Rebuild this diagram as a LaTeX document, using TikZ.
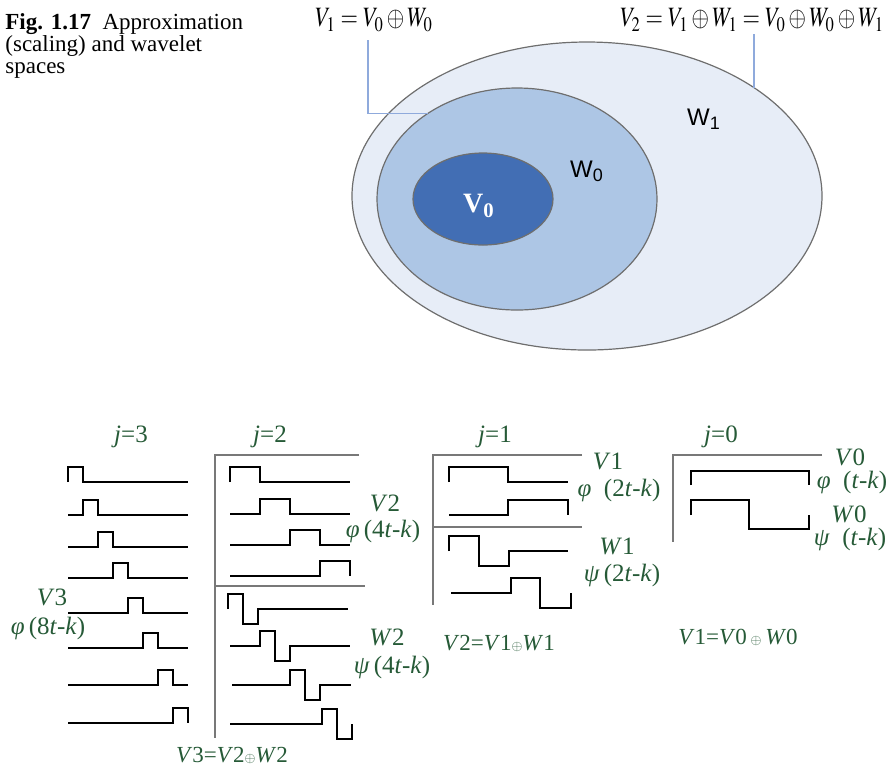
\documentclass[tikz,border=0pt]{standalone}
\usepackage{mathptmx}
\usepackage{fontspec}
\setmainfont{Liberation Serif}
\newfontfamily\arialfont{Liberation Sans}
\usepackage{xcolor}
\usepackage{graphicx}
\usetikzlibrary{shapes.geometric}

\definecolor{outfill}{RGB}{231,237,247}
\definecolor{midfill}{RGB}{173,198,229}
\definecolor{infill}{RGB}{66,110,180}
\definecolor{edgegray}{RGB}{110,110,110}
\definecolor{framegray}{RGB}{120,120,120}
\definecolor{leadblue}{RGB}{143,170,220}
\definecolor{wgreen}{RGB}{38,90,55}

\begin{document}
\begin{tikzpicture}[x=0.5pt, y=-0.5pt,
    subsp/.style={ellipse, draw=edgegray, line width=0.6pt,
                  inner sep=0pt, outer sep=0pt},
    wave/.style={line width=1pt, line join=miter},
    frame/.style={draw=framegray, line width=0.6pt},
    leader/.style={draw=leadblue, line width=0.6pt},
    lab/.style={text=wgreen, font=\fontsize{12.5}{14}\selectfont, inner sep=0pt},
    sumlab/.style={text=wgreen, font=\fontsize{11.5}{13}\selectfont, inner sep=0pt},
    eq/.style={font=\fontsize{14}{16}\selectfont, inner sep=0pt},
    spname/.style={font=\arialfont\fontsize{12}{14}\selectfont, inner sep=0pt},
]
\useasboundingbox (0,0) rectangle (894,768);

% Caption
\node[anchor=north west, align=left, inner sep=0pt,
      font=\fontsize{11.5}{11}\selectfont] (cap) at (5,13)
    {\textbf{Fig. 1.17}\enspace Approximation\\(scaling) and wavelet\\spaces};

% Nested spaces
\node[subsp, fill=outfill, minimum width=235pt, minimum height=154pt] (outell) at (587,196) {};
\node[subsp, fill=midfill, minimum width=140pt, minimum height=111pt] (midell) at (517,199) {};
\node[subsp, fill=infill, minimum width=70pt, minimum height=46pt] (inell) at (483,199) {};

\node[text=white, font=\fontsize{14}{16}\selectfont\bfseries, inner sep=0pt] (v0name) at (479,206) {V\textsubscript{0}};
\node[spname] (w0name) at (587,171) {W\textsubscript{0}};
\node[spname] (w1name) at (704,119) {W\textsubscript{1}};

\node[eq] (v1eq) at (374,20) {\scalebox{0.8}[1]{$V_1 = V_0 \oplus W_0$}};
\node[eq] (v2eq) at (752,20) {\scalebox{0.8}[1]{$V_2 = V_1 \oplus W_1 = V_0 \oplus W_0 \oplus W_1$}};
\coordinate (v1lead) at (368,40);
\coordinate (v2lead) at (754,34);
\draw[leader] (v1lead) |- (midell.136);
\draw[leader] (v2lead) -- (v2lead |- outell.33);

% Column frames
\draw[frame] (359,455) -- (215,455) -- (215,738);
\draw[frame] (215,586) -- (365,586);
\draw[frame] (582,455) -- (433,455) -- (433,605);
\draw[frame] (433,527) -- (582,527);
\draw[frame] (822,455) -- (673,455) -- (673,542);

% j=3 scaling functions
\draw[wave] (68,482) -- (68,467) -- (83,467) -- (83,482) -- (188,482);
\draw[wave] (68,515) -- (83,515) -- (83,500) -- (98,500) -- (98,515) -- (188,515);
\draw[wave] (68,547) -- (98,547) -- (98,532) -- (113,532) -- (113,547) -- (188,547);
\draw[wave] (68,578) -- (113,578) -- (113,563) -- (128,563) -- (128,578) -- (188,578);
\draw[wave] (68,613) -- (128,613) -- (128,598) -- (143,598) -- (143,613) -- (188,613);
\draw[wave] (68,648) -- (143,648) -- (143,633) -- (158,633) -- (158,648) -- (188,648);
\draw[wave] (68,685) -- (158,685) -- (158,670) -- (173,670) -- (173,685) -- (188,685);
\draw[wave] (68,723) -- (173,723) -- (173,708) -- (188,708) -- (188,723);

% j=2 scaling functions
\draw[wave] (230,482) -- (230,467) -- (260,467) -- (260,482) -- (350,482);
\draw[wave] (230,514) -- (260,514) -- (260,499) -- (290,499) -- (290,514) -- (350,514);
\draw[wave] (230,545) -- (290,545) -- (290,530) -- (320,530) -- (320,545) -- (350,545);
\draw[wave] (230,576) -- (320,576) -- (320,561) -- (350,561) -- (350,576);

% j=2 wavelets
\draw[wave] (228,609) -- (228,594) -- (243,594) -- (243,624) -- (258,624) -- (258,609) -- (348,609);
\draw[wave] (230,646) -- (260,646) -- (260,631) -- (275,631) -- (275,661) -- (290,661) -- (290,646) -- (350,646);
\draw[wave] (232,685) -- (290,685) -- (290,670) -- (305,670) -- (305,700) -- (320,700) -- (320,685) -- (351,685);
\draw[wave] (230,724) -- (322,724) -- (322,709) -- (337,709) -- (337,739) -- (352,739) -- (352,724);

% j=1
\draw[wave] (449,482) -- (449,467) -- (508,467) -- (508,482) -- (568,482);
\draw[wave] (449,515) -- (508,515) -- (508,500) -- (568,500) -- (568,515);
\draw[wave] (449,551) -- (449,536) -- (479,536) -- (479,566) -- (509,566) -- (509,551) -- (568,551);
\draw[wave] (451,593) -- (511,593) -- (511,578) -- (540,578) -- (540,608) -- (571,608) -- (571,593);

% j=0
\draw[wave] (691,485) -- (691,471) -- (809,471) -- (809,485);
\draw[wave] (691,515) -- (691,500) -- (749,500) -- (749,529) -- (809,529) -- (809,515);

% Labels
\node[lab] (j3) at (131,437) {\textit{j}=3};
\node[lab] (j2) at (270,437) {\textit{j}=2};
\node[lab] (j1) at (495,437) {\textit{j}=1};
\node[lab] (j0) at (721,437) {\textit{j}=0};

\node[lab] (v3lab) at (52,597) {\textit{V}3};
\node[lab] (phi8) at (48,628) {\textit{φ}\,(8\textit{t}-\textit{k})};
\node[lab] (v2lab) at (385,503) {\textit{V}2};
\node[lab] (phi4) at (383,531) {\textit{φ}\,(4\textit{t}-\textit{k})};
\node[lab] (w2lab) at (387,637) {\textit{W}2};
\node[lab] (psi4) at (392,667) {\textit{ψ}\,(4\textit{t}-\textit{k})};
\node[lab] (v1lab) at (608,461) {\textit{V}1};
\node[lab] (phi2) at (619,490) {\textit{φ}\enspace(2\textit{t}-\textit{k})};
\node[lab] (w1lab) at (617,546) {\textit{W}1};
\node[lab] (psi2) at (622,575) {\textit{ψ}\,(2\textit{t}-\textit{k})};
\node[lab] (v0lab) at (850,457) {\textit{V}0};
\node[lab] (phi1) at (852,482) {\textit{φ}\enspace(\textit{t}-\textit{k})};
\node[lab] (w0lab) at (849,514) {\textit{W}0};
\node[lab] (psi1) at (850,539) {\textit{ψ}\enspace(\textit{t}-\textit{k})};

\node[sumlab] (sum2) at (232,755) {\textit{V}3=\textit{V}2{\scriptsize$\oplus$}\textit{W}2};
\node[sumlab] (sum1) at (499,643) {\textit{V}2=\textit{V}1{\scriptsize$\oplus$}\textit{W}1};
\node[sumlab] (sum0) at (738,637) {\textit{V}1=\textit{V}0\,{\scriptsize$\oplus$}\,\textit{W}0};
\end{tikzpicture}
\end{document}
